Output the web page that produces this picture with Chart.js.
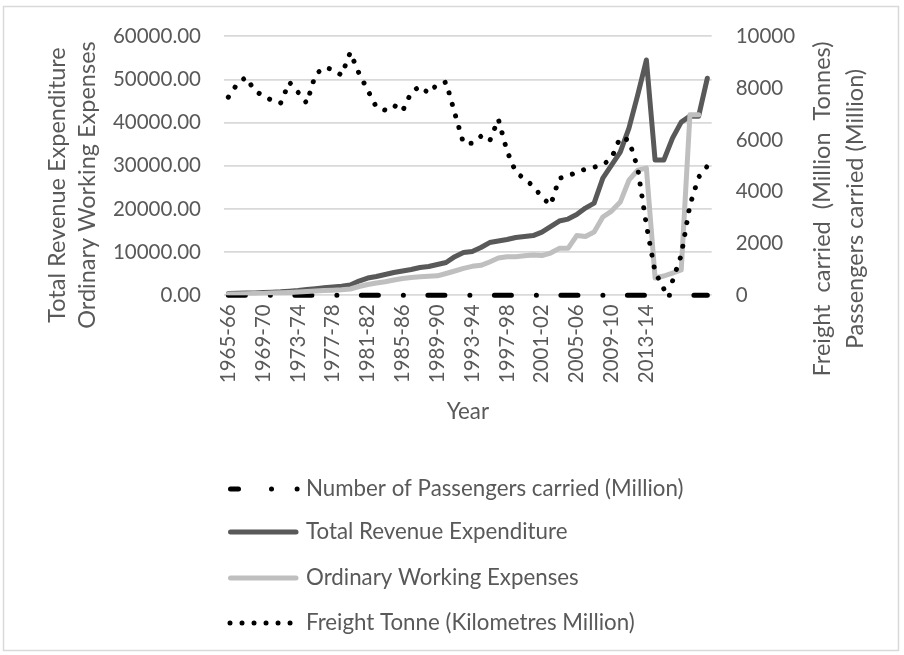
<!DOCTYPE html>
<html>
<head>
<meta charset="utf-8">
<script src="https://cdn.jsdelivr.net/npm/chart.js@4.4.1/dist/chart.umd.min.js"></script>
<style>
  html, body { margin: 0; padding: 0; background: #fff; }
  #wrap { width: 904px; height: 655px; }
</style>
</head>
<body>
<div id="wrap"><canvas id="chart" width="904" height="655"></canvas></div>
<script>
const years = ["1965-66","1966-67","1967-68","1968-69","1969-70","1970-71","1971-72","1972-73",
  "1973-74","1974-75","1975-76","1976-77","1977-78","1978-79","1979-80","1980-81","1981-82",
  "1982-83","1983-84","1984-85","1985-86","1986-87","1987-88","1988-89","1989-90","1990-91",
  "1991-92","1992-93","1993-94","1994-95","1995-96","1996-97","1997-98","1998-99","1999-00",
  "2000-01","2001-02","2002-03","2003-04","2004-05","2005-06","2006-07","2007-08","2008-09",
  "2009-10","2010-11","2011-12","2012-13","2013-14","2014-15","2015-16","2016-17","2017-18",
  "2018-19","2019-20","2020-21"];

// only every fourth year is labelled, up to 2013-14
const labelStep = 4;
const lastLabelled = "2013-14";

// left axis (Rs)
const totalRevenue = [420, 460, 510, 560, 630, 720, 810, 950, 1110, 1320, 1530, 1740, 1920, 2110,
  2380, 3300, 4000, 4350, 4820, 5280, 5630, 5970, 6440, 6670, 7130, 7590, 8950, 9900, 10140, 11070,
  12220, 12570, 12920, 13380, 13610, 13840, 14650, 15930, 17200, 17660, 18700, 20210, 21370, 27150,
  30160, 33170, 38730, 46370, 54500, 31320, 31320, 36410, 40120, 41500, 41500, 50300];

const workingExpenses = [300, 320, 350, 390, 440, 510, 580, 670, 760, 880, 1000, 1090, 1180, 1270,
  1460, 2040, 2500, 2850, 3150, 3540, 3890, 4120, 4280, 4400, 4510, 5050, 5630, 6250, 6710, 6940,
  7710, 8630, 8940, 8940, 9140, 9330, 9210, 9790, 10880, 10880, 13840, 13610, 14650, 18130, 19510,
  21600, 26690, 29000, 29470, 4000, 4470, 5160, 5860, 41800, 41800, null];

// right axis (Million)
const passengers = [0, 0, 0, 0, 0, 0, 0, 0, 0, 0, 0, 0, 0, 0, 0, 0, 0, 0, 0, 0, 0, 0, 0, 0, 0, 0,
  0, 0, 0, 0, 0, 0, 0, 0, 0, 0, 0, 0, 0, 0, 0, 0, 0, 0, 0, 0, 0, 0, 0, 0, 0, 0, 0, 0, 0, 0];

const freight = [7650, 8150, 8420, 7920, 7690, 7530, 7420, 8230, 7840, 7420, 8520, 8800, 8720, 8500,
  9380, 8570, 7920, 7260, 7150, 7340, 7110, 7840, 8070, 7800, 8150, 8230, 7030, 5870, 5870, 6140,
  5950, 6800, 5570, 4760, 4490, 4220, 3790, 3480, 4520, 4600, 4760, 4870, 4950, 5030, 5300, 6100,
  5990, 4910, 2710, 900, 250, 550, 1550, 3480, 4560, 4990];

const leftTitle = ["Total Revenue Expenditure", "Ordinary Working Expenses"];
const rightTitle = ["Freight  carried  (Million  Tonnes)", "Passengers carried (Million)"];

const textColor = "#595959";
const fontFamily = "Lato, 'Liberation Sans', sans-serif";
const tickSize = 20.5;
const textSize = 22.3;
const titleSize = 23.5;

const legendRows = [
  { text: "Number of Passengers carried (Million)", color: "#000", dash: [8, 33, 0.01, 25.6, 0.01, 200], from: 230.5, to: 299, y: 489 },
  { text: "Total Revenue Expenditure", color: "#595959", dash: [], from: 230.5, to: 296, y: 532 },
  { text: "Ordinary Working Expenses", color: "#bfbfbf", dash: [], from: 230.5, to: 296, y: 578 },
  { text: "Freight Tonne (Kilometres Million)", color: "#000", dash: [0.01, 12], from: 230, to: 292, y: 623 }
];

// frame, axis titles and the stacked legend
const decorations = {
  id: "decorations",
  beforeDraw(chart) {
    const ctx = chart.ctx;
    ctx.save();
    ctx.fillStyle = "#fff";
    ctx.fillRect(0, 0, chart.width, chart.height);
    ctx.strokeStyle = "#d9d9d9";
    ctx.lineWidth = 1.5;
    ctx.strokeRect(3.5, 6.5, 895, 644);
    ctx.restore();
  },
  afterDraw(chart) {
    const ctx = chart.ctx;
    const area = chart.chartArea;
    ctx.save();
    ctx.fillStyle = textColor;
    ctx.textAlign = "center";
    ctx.textBaseline = "middle";

    const upText = (s, x, y) => {
      ctx.save();
      ctx.translate(x, y);
      ctx.rotate(-Math.PI / 2);
      ctx.fillText(s, 0, 0);
      ctx.restore();
    };
    ctx.font = titleSize + "px " + fontFamily;
    upText(leftTitle[0], 57, 185);
    upText(leftTitle[1], 87, 185);
    upText(rightTitle[0], 822, 209);
    upText(rightTitle[1], 855, 209);

    ctx.font = textSize + "px " + fontFamily;
    ctx.fillText("Year", (area.left + area.right) / 2, 412);

    ctx.textAlign = "left";
    legendRows.forEach(row => {
      ctx.save();
      ctx.strokeStyle = row.color;
      ctx.lineWidth = 5;
      ctx.lineCap = "round";
      ctx.setLineDash(row.dash);
      ctx.beginPath();
      ctx.moveTo(row.from, row.y);
      ctx.lineTo(row.to, row.y);
      ctx.stroke();
      ctx.restore();
      ctx.fillText(row.text, 306, row.y);
    });
    ctx.restore();
  }
};

const tickFont = { family: fontFamily, size: tickSize };
const lastLabelIndex = years.indexOf(lastLabelled);

new Chart(document.getElementById("chart"), {
  type: "line",
  data: {
    labels: years,
    datasets: [
      {
        label: legendRows[0].text,
        data: passengers,
        yAxisID: "y1",
        borderColor: "#000",
        borderWidth: 5,
        borderDash: [17, 25, 0.01, 24.5],
        borderCapStyle: "round",
        pointRadius: 0,
        clip: false,
        order: 3
      },
      {
        label: legendRows[1].text,
        data: totalRevenue,
        yAxisID: "y",
        borderColor: "#595959",
        borderWidth: 5,
        borderCapStyle: "round",
        borderJoinStyle: "round",
        pointRadius: 0,
        order: 2
      },
      {
        label: legendRows[2].text,
        data: workingExpenses,
        yAxisID: "y",
        borderColor: "#bfbfbf",
        borderWidth: 5,
        borderCapStyle: "round",
        borderJoinStyle: "round",
        pointRadius: 0,
        order: 1
      },
      {
        label: legendRows[3].text,
        data: freight,
        yAxisID: "y1",
        borderColor: "#000",
        borderWidth: 5,
        borderDash: [0.01, 12],
        borderCapStyle: "round",
        borderJoinStyle: "round",
        pointRadius: 0,
        order: 0
      }
    ]
  },
  options: {
    responsive: false,
    animation: false,
    devicePixelRatio: 1,
    layout: { padding: { top: 36, bottom: 0, left: 0, right: 0 } },
    plugins: {
      legend: { display: false },
      tooltip: { enabled: false }
    },
    scales: {
      x: {
        offset: true,
        grid: { display: false, drawTicks: false },
        border: { display: false },
        ticks: {
          autoSkip: false,
          minRotation: 90,
          maxRotation: 90,
          padding: 9,
          color: textColor,
          font: tickFont,
          callback: (v, i) => (i % labelStep === 0 && i <= lastLabelIndex ? years[i] : "")
        },
        afterFit: s => { s.height = 655 - 295.3; }
      },
      y: {
        position: "left",
        min: 0,
        max: 60000,
        ticks: {
          stepSize: 10000,
          padding: 23,
          color: textColor,
          font: tickFont,
          callback: v => v.toFixed(2)
        },
        grid: { color: "#d9d9d9", lineWidth: 1.8, drawTicks: false },
        border: { display: false },
        afterFit: s => { s.width = 224; }
      },
      y1: {
        position: "right",
        min: 0,
        max: 10000,
        ticks: {
          stepSize: 1000,
          padding: 24,
          color: textColor,
          font: tickFont,
          callback: v => String(v)
        },
        grid: { display: false, drawTicks: false },
        border: { display: false },
        afterFit: s => { s.width = 904 - 711.7; }
      }
    }
  },
  plugins: [decorations]
});
</script>
</body>
</html>
